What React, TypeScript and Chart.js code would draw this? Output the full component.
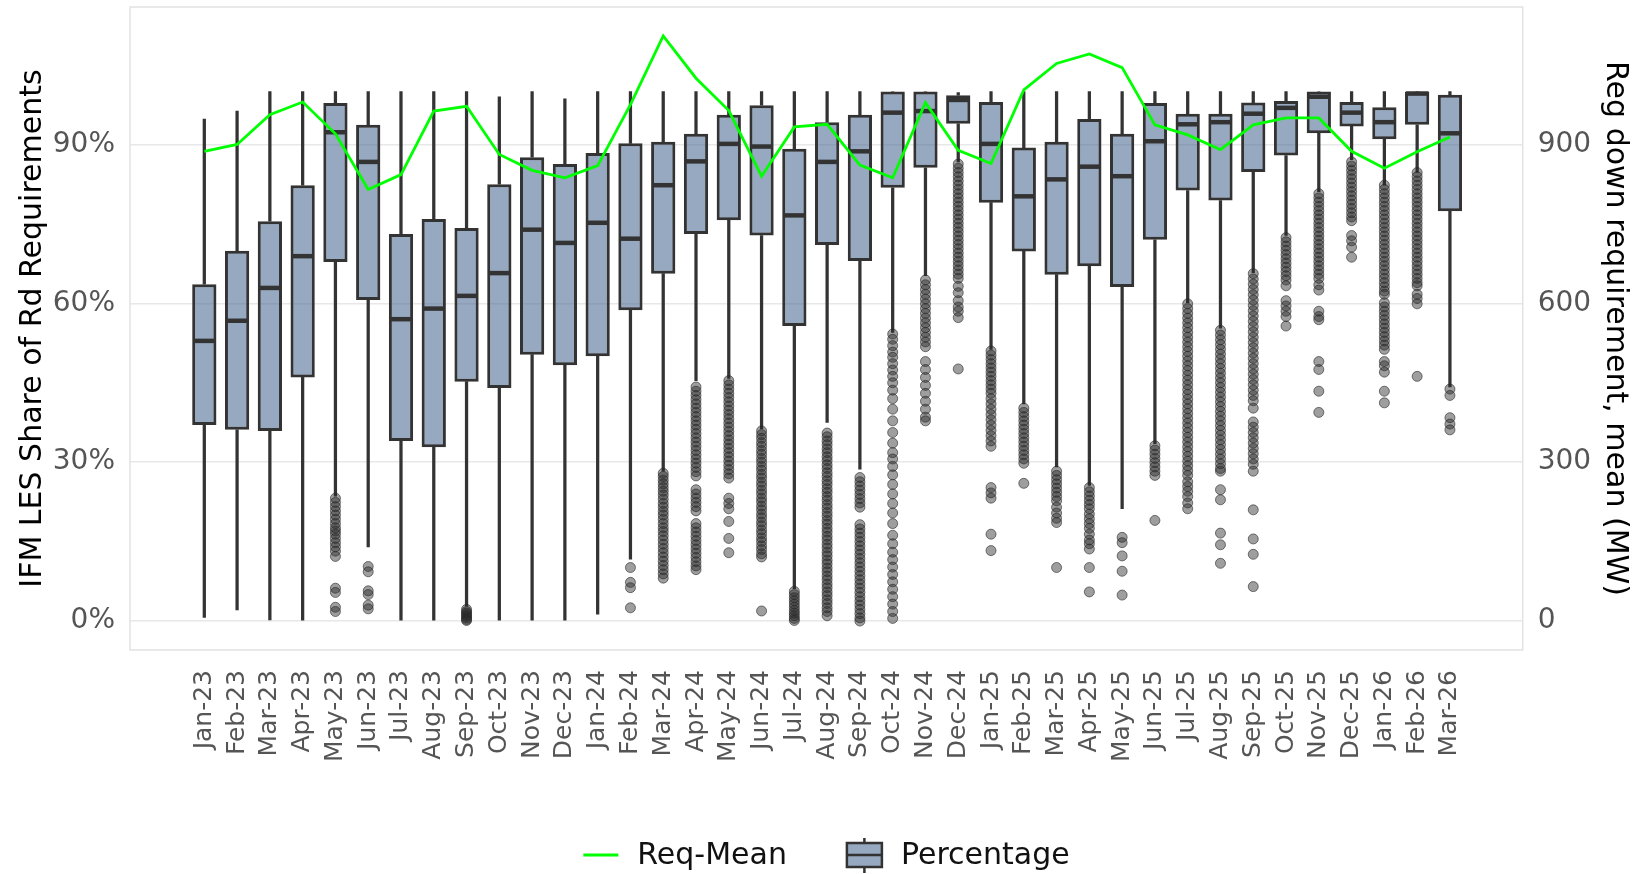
import React, { useEffect, useRef } from 'react';
import { Chart, registerables } from 'chart.js';

Chart.register(...registerables);

const months = [
  'Jan-23', 'Feb-23', 'Mar-23', 'Apr-23', 'May-23', 'Jun-23', 'Jul-23', 'Aug-23', 'Sep-23', 'Oct-23', 'Nov-23', 'Dec-23',
  'Jan-24', 'Feb-24', 'Mar-24', 'Apr-24', 'May-24', 'Jun-24', 'Jul-24', 'Aug-24', 'Sep-24', 'Oct-24', 'Nov-24', 'Dec-24',
  'Jan-25', 'Feb-25', 'Mar-25', 'Apr-25', 'May-25', 'Jun-25', 'Jul-25', 'Aug-25', 'Sep-25', 'Oct-25', 'Nov-25', 'Dec-25',
  'Jan-26', 'Feb-26', 'Mar-26',
];

const whiskerLow = [
  0.7, 2.1, 0.2, 0.0, 23.6, 14.0, 0.0, 0.0, 2.8, 0.0, 0.0, 0.0,
  1.3, 11.7, 28.3, 45.4, 45.8, 36.3, 6.1, 37.5, 28.7, 54.5, 65.2, 86.7,
  51.3, 41.0, 29.1, 25.6, 21.2, 33.5, 60.1, 55.3, 65.8, 72.8, 81.1, 87.1,
  82.3, 84.7, 44.2,
];
const q1 = [
  37.0, 36.1, 35.9, 46.0, 67.8, 60.6, 34.0, 32.8, 45.2, 44.0, 50.3, 48.3,
  50.0, 58.7, 65.6, 73.1, 75.7, 72.8, 55.7, 71.0, 68.0, 81.8, 85.6, 93.9,
  79.0, 69.8, 65.4, 67.0, 63.1, 72.0, 81.3, 79.4, 84.8, 87.9, 92.1, 93.4,
  91.0, 93.7, 77.4,
];
const median = [
  52.9, 56.7, 62.9, 68.9, 92.3, 86.7, 57.0, 59.0, 61.4, 65.7, 73.9, 71.4,
  75.2, 72.2, 82.3, 86.8, 90.1, 89.6, 76.6, 86.7, 88.7, 96.0, 96.3, 98.4,
  90.1, 80.2, 83.4, 85.8, 84.0, 90.6, 93.8, 94.2, 95.8, 96.9, 99.0, 96.0,
  94.2, 99.6, 92.1,
];
const q3 = [
  63.6, 69.9, 75.5, 82.3, 97.8, 93.7, 73.1, 75.9, 74.2, 82.5, 87.6, 86.3,
  88.4, 90.2, 90.5, 92.0, 95.6, 97.4, 89.2, 94.2, 95.6, 100.0, 100.0, 99.3,
  98.0, 89.4, 90.5, 94.8, 92.0, 97.8, 95.8, 95.8, 97.9, 98.2, 100.0, 98.0,
  97.0, 100.0, 99.4,
];
const whiskerHigh = [
  94.8, 96.3, 100.0, 100.0, 100.0, 100.0, 100.0, 100.0, 100.0, 99.0, 100.0, 98.6,
  100.0, 100.0, 100.0, 100.0, 100.0, 100.0, 100.0, 100.0, 100.0, 100.0, 100.0, 99.8,
  100.0, 100.0, 100.0, 100.0, 100.0, 100.0, 100.0, 100.0, 100.0, 100.0, 100.0, 100.0,
  100.0, 100.0, 100.0,
];

// Mean regulation-down requirement (MW), right axis
const reqMean = [
  887, 900, 956, 980, 920, 815, 843, 963, 972, 881, 851, 837,
  860, 975, 1105, 1025, 964, 840, 933, 938, 861, 837, 979, 889,
  864, 1003, 1053, 1071, 1045, 937, 918, 890, 937, 950, 950, 887,
  855, 886, 914,
];

// Outlier observations (%) per month
const outliers: number[][] = [
  [],
  [],
  [],
  [],
  [23.2, 22.4, 21.6, 20.8, 20.0, 19.2, 18.4, 17.6, 17.0, 16.4, 15.6, 14.8, 14.0, 13.2, 12.2, 6.2, 5.4, 2.6, 1.8],
  [10.3, 9.3, 5.7, 5.0, 3.0, 2.3],
  [],
  [],
  [2.2, 1.8, 1.5, 1.2, 0.9, 0.6, 0.3, 0.1],
  [],
  [],
  [],
  [],
  [10.1, 7.3, 6.3, 2.5],
  [27.9, 27.3, 26.6, 25.9, 25.2, 24.5, 23.8, 23.0, 22.2, 21.5, 20.7, 20.0, 19.2, 18.4, 17.6, 16.9, 16.1, 15.3, 14.5, 13.7, 12.9, 12.1, 11.3, 10.5, 9.7, 8.9, 8.1],
  [44.2, 43.4, 42.6, 41.8, 41.0, 40.2, 39.4, 38.6, 37.8, 37.0, 36.2, 35.4, 34.6, 33.8, 33.0, 32.2, 31.4, 30.6, 29.8, 29.0, 28.2, 27.4, 24.8, 24.0, 23.2, 22.4, 21.6, 20.8, 18.4, 17.6, 16.8, 16.0, 15.2, 14.4, 13.6, 12.8, 12.0, 11.2, 10.4, 9.7],
  [45.4, 44.6, 43.8, 43.0, 42.2, 41.4, 40.6, 39.8, 39.0, 38.2, 37.4, 36.6, 35.8, 35.0, 34.2, 33.4, 32.6, 31.8, 31.0, 30.2, 29.4, 28.6, 27.8, 27.0, 23.2, 22.2, 21.2, 18.8, 15.6, 12.9],
  [35.9, 35.2, 34.5, 33.7, 33.0, 32.2, 31.5, 30.7, 30.0, 29.2, 28.5, 27.7, 27.0, 26.2, 25.5, 24.7, 24.0, 23.2, 22.5, 21.7, 21.0, 20.2, 19.5, 18.7, 18.0, 17.2, 16.5, 15.7, 15.0, 14.2, 13.5, 12.7, 12.1, 1.9],
  [5.6, 5.0, 4.4, 3.8, 3.2, 2.6, 2.0, 1.5, 1.0, 0.5, 0.1],
  [35.5, 34.8, 34.0, 33.3, 32.5, 31.8, 31.0, 30.3, 29.5, 28.8, 28.0, 27.3, 26.5, 25.8, 25.0, 24.3, 23.5, 22.8, 22.0, 21.3, 20.5, 19.8, 19.0, 18.3, 17.5, 16.8, 16.0, 15.3, 14.5, 13.8, 13.0, 12.3, 11.5, 10.8, 10.0, 9.3, 8.5, 7.8, 7.0, 6.3, 5.5, 4.8, 4.0, 3.3, 2.5, 1.8, 1.0],
  [27.1, 26.3, 25.5, 24.7, 23.9, 23.1, 22.3, 21.5, 18.2, 17.4, 16.6, 15.8, 15.0, 14.2, 13.4, 12.6, 11.8, 11.0, 10.2, 9.4, 8.6, 7.8, 7.0, 6.2, 5.4, 4.6, 3.8, 3.0, 2.2, 1.4, 0.6, 0.0],
  [54.2, 53.2, 52.0, 50.8, 49.8, 48.6, 47.4, 46.2, 45.0, 43.6, 42.0, 40.0, 37.8, 35.6, 33.6, 31.8, 30.6, 29.2, 27.6, 25.8, 24.0, 22.2, 20.4, 18.4, 16.2, 14.6, 13.0, 11.6, 10.2, 8.8, 7.4, 6.0, 4.6, 3.2, 1.8, 0.5],
  [64.4, 63.5, 62.6, 61.7, 60.8, 59.9, 59.0, 58.1, 57.2, 56.3, 55.4, 54.5, 53.6, 52.7, 51.8, 49.0, 47.5, 46.0, 44.5, 43.0, 41.5, 40.0, 38.5, 37.8],
  [86.3, 85.5, 84.7, 83.9, 83.1, 82.3, 81.5, 80.7, 79.9, 79.1, 78.3, 77.5, 76.7, 75.9, 75.1, 74.3, 73.5, 72.7, 71.9, 71.1, 70.3, 69.5, 68.7, 67.9, 67.1, 66.3, 65.5, 64.7, 63.2, 62.0, 60.5, 59.3, 58.5, 57.3, 47.6],
  [51.0, 50.2, 49.4, 48.6, 47.8, 47.0, 46.2, 45.4, 44.6, 43.8, 43.0, 42.0, 41.0, 40.0, 39.0, 38.0, 37.0, 36.0, 35.0, 34.0, 33.0, 25.2, 24.2, 23.2, 16.4, 13.3],
  [40.2, 39.4, 38.6, 37.8, 37.0, 36.2, 35.4, 34.6, 33.8, 33.0, 32.2, 31.4, 30.6, 29.8, 26.0],
  [28.3, 27.5, 26.7, 25.9, 25.1, 24.3, 23.5, 22.7, 21.5, 20.4, 19.4, 18.6, 10.1],
  [25.2, 24.4, 23.6, 22.8, 22.0, 21.2, 20.2, 19.3, 18.4, 17.5, 16.4, 15.3, 14.6, 13.6, 10.1, 5.5],
  [15.8, 14.8, 12.3, 9.4, 4.9],
  [33.1, 32.3, 31.5, 30.7, 29.9, 29.1, 28.3, 27.5, 19.0],
  [59.9, 59.0, 58.1, 57.2, 56.3, 55.4, 54.5, 53.6, 52.7, 51.8, 50.9, 50.0, 49.1, 48.2, 47.3, 46.4, 45.5, 44.6, 43.7, 42.8, 41.9, 41.0, 40.1, 39.2, 38.3, 37.4, 36.5, 35.6, 34.7, 33.8, 32.9, 32.0, 31.1, 30.2, 29.3, 28.4, 27.5, 26.3, 25.4, 24.5, 23.5, 22.3, 21.2],
  [54.9, 54.0, 53.1, 52.2, 51.3, 50.4, 49.5, 48.6, 47.7, 46.8, 45.9, 45.0, 44.1, 43.2, 42.3, 41.4, 40.5, 39.6, 38.7, 37.8, 36.9, 36.0, 35.1, 34.2, 33.3, 32.4, 31.5, 30.6, 29.7, 28.8, 28.3, 24.8, 22.9, 16.6, 14.4, 10.9],
  [65.6, 64.6, 63.6, 62.6, 61.6, 60.6, 59.6, 58.6, 57.6, 56.6, 55.6, 54.6, 53.6, 52.6, 51.6, 50.6, 49.6, 48.6, 47.6, 46.6, 45.6, 44.6, 43.6, 42.6, 41.6, 40.2, 37.6, 36.6, 35.6, 34.6, 33.6, 32.6, 31.6, 30.6, 29.6, 28.3, 21.0, 15.5, 12.6, 6.5],
  [72.4, 71.6, 70.8, 70.0, 69.2, 68.4, 67.6, 66.8, 66.0, 65.2, 64.4, 63.3, 60.5, 59.5, 58.5, 57.5, 55.7],
  [80.7, 79.9, 79.1, 78.3, 77.5, 76.7, 75.9, 75.1, 74.3, 73.5, 72.7, 71.9, 71.1, 70.3, 69.5, 68.7, 67.9, 67.1, 66.3, 65.5, 64.7, 63.5, 62.5, 58.5, 57.5, 56.9, 49.0, 47.5, 43.4, 39.4],
  [86.7, 85.9, 85.1, 84.3, 83.5, 82.7, 81.9, 81.1, 80.3, 79.5, 78.7, 77.9, 77.1, 76.3, 75.6, 72.8, 71.8, 70.6, 68.7],
  [82.3, 81.5, 80.7, 79.9, 79.1, 78.3, 77.5, 76.7, 75.9, 75.1, 74.3, 73.5, 72.7, 71.9, 71.1, 70.3, 69.5, 68.7, 67.9, 67.1, 66.3, 65.5, 64.7, 63.9, 63.1, 62.3, 61.7, 60.1, 59.3, 58.5, 57.7, 56.9, 56.1, 55.3, 54.5, 53.7, 52.9, 52.1, 51.3, 49.0, 48.2, 47.0, 43.4, 41.2],
  [84.7, 83.9, 83.1, 82.3, 81.5, 80.7, 79.9, 79.1, 78.3, 77.5, 76.7, 75.9, 75.1, 74.3, 73.5, 72.7, 71.9, 71.1, 70.3, 69.5, 68.7, 67.9, 67.1, 66.3, 65.5, 64.7, 63.9, 63.3, 61.7, 60.9, 59.9, 46.2],
  [43.8, 42.6, 38.4, 37.2, 36.1],
];

const leftTicks = [0, 30, 60, 90];
const rightTicks = [0, 300, 600, 900];

const FONT = 'DejaVu Sans';
const BOX_FILL = 'rgba(66,99,140,0.55)';
const DARK = '#333333';
const TICK_COLOR = '#555555';

const framePlugin = {
  id: 'frame',
  beforeDatasetsDraw(chart: any) {
    const { ctx, chartArea } = chart;
    ctx.save();
    ctx.strokeStyle = '#e2e2e2';
    ctx.lineWidth = 1.5;
    ctx.strokeRect(chartArea.left, chartArea.top, chartArea.right - chartArea.left, chartArea.bottom - chartArea.top);
    ctx.restore();
  },
};

const medianPlugin = {
  id: 'medians',
  afterDatasetDraw(chart: any, args: any) {
    if (chart.data.datasets[args.index].label !== 'Percentage') return;
    const { ctx } = chart;
    const yScale = chart.scales.y;
    ctx.save();
    ctx.strokeStyle = DARK;
    ctx.lineWidth = 4.5;
    args.meta.data.forEach((bar: any, i: number) => {
      const py = yScale.getPixelForValue(median[i]);
      const half = bar.width / 2;
      ctx.beginPath();
      ctx.moveTo(bar.x - half + 1, py);
      ctx.lineTo(bar.x + half - 1, py);
      ctx.stroke();
    });
    ctx.restore();
  },
};

const legendPlugin = {
  id: 'customLegend',
  afterDraw(chart: any) {
    const { ctx, width, height } = chart;
    const cy = height - 19;
    ctx.save();
    ctx.font = `30px "${FONT}"`;
    ctx.textBaseline = 'middle';
    ctx.fillStyle = '#111111';
    const t1 = 'Req-Mean';
    const t2 = 'Percentage';
    const w1 = ctx.measureText(t1).width;
    const w2 = ctx.measureText(t2).width;
    const total = 35 + 19 + w1 + 60 + 35 + 19 + w2;
    let x = (width - total) / 2 + 4;
    ctx.strokeStyle = '#00ff00';
    ctx.lineWidth = 3;
    ctx.beginPath();
    ctx.moveTo(x, cy);
    ctx.lineTo(x + 35, cy);
    ctx.stroke();
    x += 35 + 19;
    ctx.fillText(t1, x, cy + 1);
    x += w1 + 60;
    // box icon
    ctx.fillStyle = BOX_FILL;
    ctx.fillRect(x, cy - 12, 35, 24);
    ctx.strokeStyle = DARK;
    ctx.lineWidth = 2.5;
    ctx.strokeRect(x, cy - 12, 35, 24);
    ctx.beginPath();
    ctx.moveTo(x, cy);
    ctx.lineTo(x + 35, cy);
    ctx.moveTo(x + 17.5, cy - 12);
    ctx.lineTo(x + 17.5, cy - 17);
    ctx.moveTo(x + 17.5, cy + 12);
    ctx.lineTo(x + 17.5, cy + 18);
    ctx.stroke();
    x += 35 + 19;
    ctx.fillStyle = '#111111';
    ctx.fillText(t2, x, cy + 1);
    ctx.restore();
  },
};

export default function App() {
  const canvasRef = useRef<HTMLCanvasElement | null>(null);

  useEffect(() => {
    document.body.style.margin = '0';
    const canvas = canvasRef.current;
    if (!canvas) return;

    const boxData = months.map((_, i) => ({ x: i, y: [q1[i], q3[i]] }));
    const lowWhisker = months.map((_, i) => ({ x: i, y: [whiskerLow[i], q1[i]] }));
    const highWhisker = months.map((_, i) => ({ x: i, y: [q3[i], whiskerHigh[i]] }));
    const outlierPoints = outliers.flatMap((arr, i) => arr.map((v) => ({ x: i, y: v })));
    const lineData = reqMean.map((v, i) => ({ x: i, y: v }));

    const chart = new Chart(canvas, {
      type: 'bar',
      data: {
        datasets: [
          {
            type: 'line',
            label: 'Req-Mean',
            data: lineData as any,
            yAxisID: 'y2',
            borderColor: '#00ff00',
            borderWidth: 2.8,
            pointRadius: 0,
            tension: 0,
            order: 0,
          } as any,
          {
            type: 'scatter',
            label: 'Outliers',
            data: outlierPoints as any,
            yAxisID: 'y',
            pointRadius: 5,
            backgroundColor: 'rgba(40,40,40,0.45)',
            borderColor: 'rgba(40,40,40,0.6)',
            borderWidth: 1,
            order: 1,
          } as any,
          {
            type: 'bar',
            label: 'Percentage',
            data: boxData as any,
            yAxisID: 'y',
            backgroundColor: BOX_FILL,
            borderColor: DARK,
            borderWidth: 3,
            borderSkipped: false,
            grouped: false,
            categoryPercentage: 1,
            barPercentage: 0.74,
            order: 2,
          } as any,
          {
            type: 'bar',
            label: 'LowWhisker',
            data: lowWhisker as any,
            yAxisID: 'y',
            backgroundColor: DARK,
            borderWidth: 0,
            grouped: false,
            barThickness: 2.6,
            order: 3,
          } as any,
          {
            type: 'bar',
            label: 'HighWhisker',
            data: highWhisker as any,
            yAxisID: 'y',
            backgroundColor: DARK,
            borderWidth: 0,
            grouped: false,
            barThickness: 2.6,
            order: 3,
          } as any,
        ],
      },
      options: {
        responsive: false,
        animation: false,
        devicePixelRatio: 1,
        layout: { padding: { top: 7, bottom: 0, left: 0, right: 0 } },
        plugins: {
          legend: { display: false },
          tooltip: { enabled: false },
        },
        scales: {
          x: {
            type: 'linear',
            min: -2.267,
            max: 40.22,
            offset: false,
            grid: { display: false, drawTicks: false },
            border: { display: false },
            afterBuildTicks: (scale: any) => {
              scale.ticks = months.map((_, i) => ({ value: i }));
            },
            afterFit: (scale: any) => {
              scale.height = 224;
              scale.paddingLeft = 0;
              scale.paddingRight = 0;
            },
            ticks: {
              autoSkip: false,
              minRotation: 90,
              maxRotation: 90,
              padding: 20,
              color: TICK_COLOR,
              font: { family: FONT, size: 25 },
              callback: (value: any) => months[value] ?? '',
            },
          },
          y: {
            type: 'linear',
            position: 'left',
            min: -5.47,
            max: 115.95,
            grid: { color: '#e8e8e8', lineWidth: 1.5, drawTicks: false },
            border: { display: false },
            afterBuildTicks: (scale: any) => {
              scale.ticks = leftTicks.map((v) => ({ value: v }));
            },
            afterFit: (scale: any) => {
              scale.width = 130;
              scale.paddingTop = 0;
              scale.paddingBottom = 0;
            },
            ticks: {
              padding: 15,
              color: TICK_COLOR,
              font: { family: FONT, size: 28 },
              callback: (value: any) => `${value}%`,
            },
            title: {
              display: true,
              text: 'IFM LES Share of Rd Requirements',
              color: '#000000',
              font: { family: FONT, size: 30 },
              padding: { top: 15, bottom: 0 },
            },
          },
          y2: {
            type: 'linear',
            position: 'right',
            min: -54.7,
            max: 1159.5,
            grid: { drawOnChartArea: false, drawTicks: false },
            border: { display: false },
            afterBuildTicks: (scale: any) => {
              scale.ticks = rightTicks.map((v) => ({ value: v }));
            },
            afterFit: (scale: any) => {
              scale.width = 122.3;
              scale.paddingTop = 0;
              scale.paddingBottom = 0;
            },
            ticks: {
              padding: 15,
              color: TICK_COLOR,
              font: { family: FONT, size: 28 },
              callback: (value: any) => `${value}`,
            },
            title: {
              display: true,
              text: 'Reg down requirement, mean (MW)',
              color: '#000000',
              font: { family: FONT, size: 30 },
              padding: { top: 12, bottom: 0 },
            },
          },
        },
      } as any,
      plugins: [framePlugin, medianPlugin, legendPlugin],
    });

    return () => {
      chart.destroy();
    };
  }, []);

  return (
    <div style={{ width: 1645, height: 874 }}>
      <canvas ref={canvasRef} width={1645} height={874} style={{ display: 'block' }} />
    </div>
  );
}
